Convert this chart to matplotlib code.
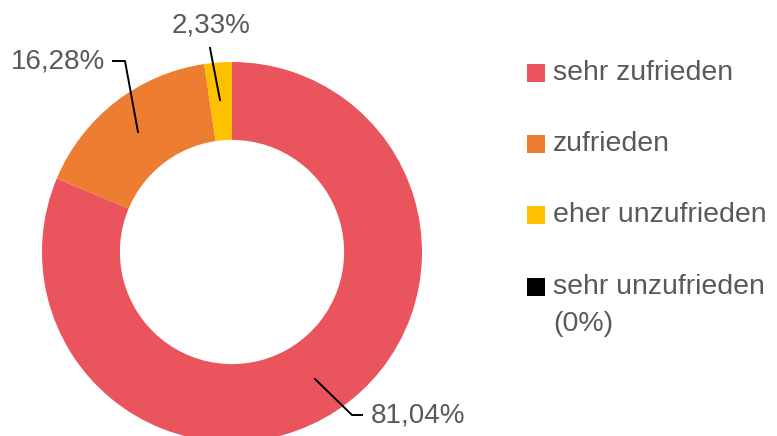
import matplotlib.pyplot as plt
from matplotlib.patches import Rectangle

plt.rcParams['font.family'] = ['Liberation Sans', 'DejaVu Sans']

# data
categories = ["sehr zufrieden", "zufrieden", "eher unzufrieden", "sehr unzufrieden\n(0%)"]
values = [81.04, 16.28, 2.33, 0.0]
colors = ["#EA545C", "#ED7D31", "#FFC000", "#000000"]
label_texts = ["81,04%", "16,28%", "2,33%", None]

W, H = 777, 436
fig = plt.figure(figsize=(W / 100, H / 100), dpi=100)
ax = fig.add_axes([0, 0, 1, 1])


def fy(y):
    # pixel row -> axis y
    return H - y


# draw only non-zero slices
vals = [v for v in values if v > 0]
cols = [c for v, c in zip(values, colors) if v > 0]
ax.pie(vals, colors=cols, startangle=90, counterclock=False,
       center=(232, fy(252)), radius=190, frame=True,
       wedgeprops=dict(width=190 * 0.41, linewidth=0))
ax.set_xlim(0, W)
ax.set_ylim(0, H)
ax.set_aspect('equal')
ax.axis('off')

txt_color = "#595959"
fs = 20

# leader lines + labels
ax.plot([315, 352, 362], [fy(379), fy(415), fy(415)], color="black", lw=1.4)
ax.text(371, fy(415), label_texts[0], fontsize=fs, color=txt_color, va='center', ha='left')

ax.plot([138, 125, 113], [fy(132), fy(61), fy(61)], color="black", lw=1.4)
ax.text(105, fy(62), label_texts[1], fontsize=fs, color=txt_color, va='center', ha='right')

ax.plot([220, 210], [fy(100), fy(48)], color="black", lw=1.4)
ax.text(211, fy(26), label_texts[2], fontsize=fs, color=txt_color, va='center', ha='center')

# legend drawn by hand (second line of last entry hangs below)
row_y = [73, 144, 215, 287]
for cat, col, y in zip(categories, colors, row_y):
    ax.add_patch(Rectangle((527, fy(y) - 9), 18, 18, facecolor=col, edgecolor='none'))
    for k, line in enumerate(cat.split("\n")):
        ax.text(553, fy(y + 37 * k), line, fontsize=fs + 0.5, color=txt_color,
                va='center', ha='left')

fig.savefig("out.png", dpi=100)
